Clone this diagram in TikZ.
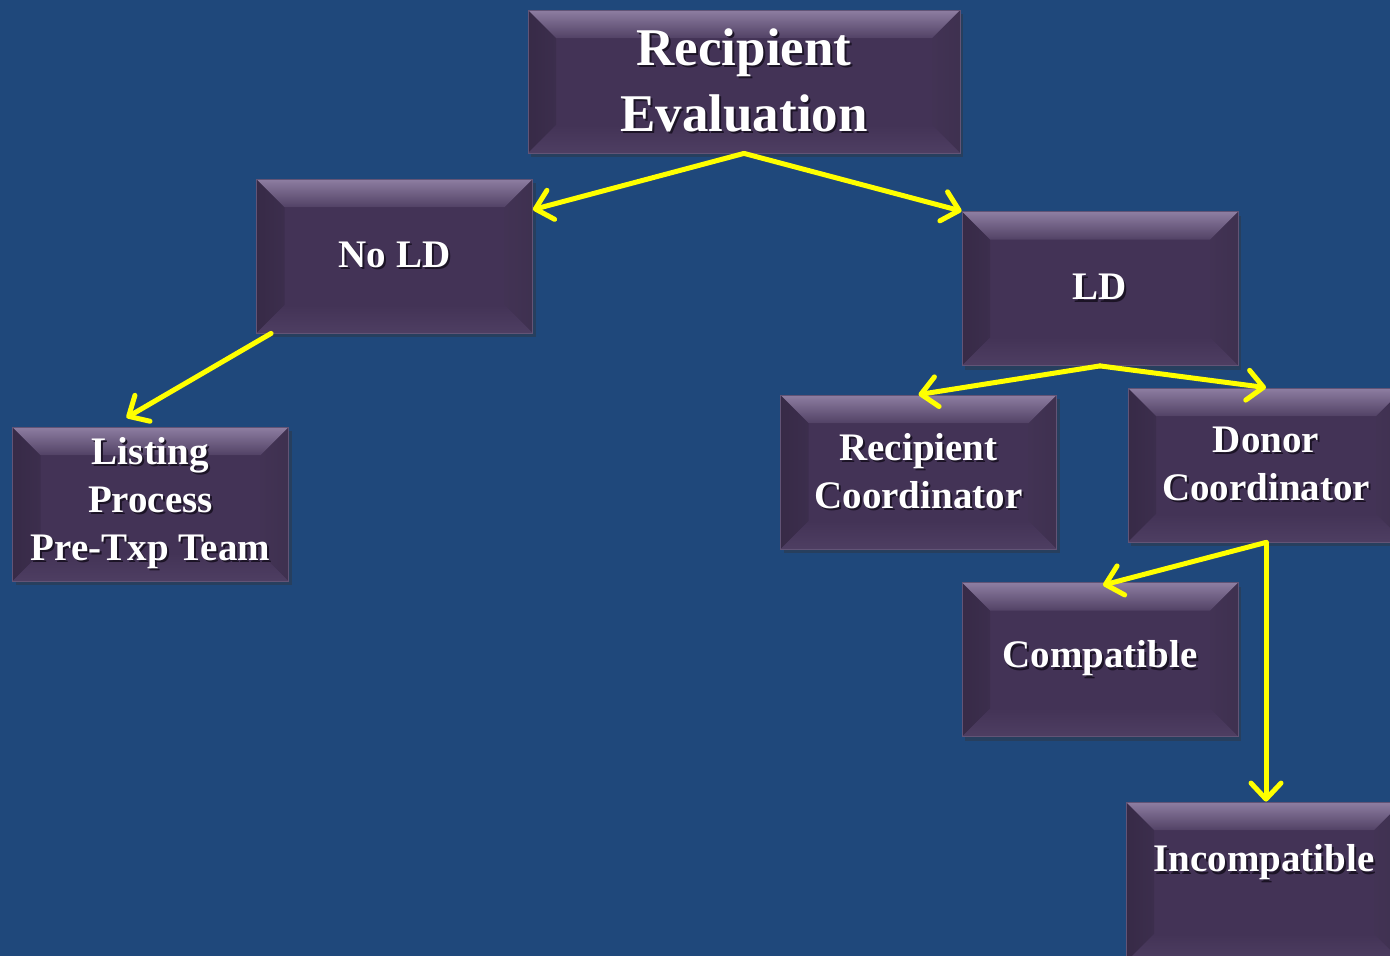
\documentclass[tikz,border=0pt]{standalone}
\usepackage{fontspec}
\setmainfont{Liberation Serif}
\usetikzlibrary{arrows.meta,shadows,calc}

\definecolor{bgblue}{RGB}{31,72,123}
\definecolor{cardmain}{RGB}{67,51,86}
\definecolor{bevtop}{RGB}{142,126,162}
\definecolor{bevleft}{RGB}{60,46,77}
\definecolor{bevright}{RGB}{66,51,84}
\definecolor{bevbot}{RGB}{78,62,98}
\definecolor{cardedge}{RGB}{98,84,118}
\definecolor{txtshadow}{RGB}{28,20,38}
\definecolor{flow}{RGB}{255,255,0}

% white lettering with a soft dark shadow below-right
\newcommand\shd[1]{\makebox[0pt][l]{\hspace{2pt}\raisebox{-2.5pt}{\textcolor{txtshadow}{#1}}}#1}

\tikzset{
  card/.style={
    fill=cardmain, draw=cardedge, line width=0.8pt, text=white,
    minimum width=276pt, minimum height=154pt, inner sep=0pt, align=center,
    font=\bfseries\fontsize{39}{48}\selectfont,
    drop shadow={shadow xshift=3pt, shadow yshift=-4pt, opacity=.4, fill=black!80},
    path picture={
      \def\bv{28pt}
      \coordinate (cNW) at (path picture bounding box.north west);
      \coordinate (cNE) at (path picture bounding box.north east);
      \coordinate (cSW) at (path picture bounding box.south west);
      \coordinate (cSE) at (path picture bounding box.south east);
      % left and right bevels
      \shade[left color=bevleft!92!black, right color=bevleft]
        (cNW) -- ([xshift=\bv,yshift=-\bv]cNW) -- ([xshift=\bv,yshift=\bv]cSW) -- (cSW) -- cycle;
      \shade[left color=bevright, right color=bevright!95!black]
        (cNE) -- (cSE) -- ([xshift=-\bv,yshift=\bv]cSE) -- ([xshift=-\bv,yshift=-\bv]cNE) -- cycle;
      % top bevel catches the light
      \shade[top color=bevtop, bottom color=cardmain!80!bevtop]
        (cNW) -- (cNE) -- ([xshift=-\bv,yshift=-\bv]cNE) -- ([xshift=\bv,yshift=-\bv]cNW) -- cycle;
      % bottom bevel
      \shade[top color=cardmain, bottom color=bevbot]
        (cSW) -- ([xshift=\bv,yshift=\bv]cSW) -- ([xshift=-\bv,yshift=\bv]cSE) -- (cSE) -- cycle;
    }},
  bigcard/.style={card, minimum width=432pt, minimum height=143pt,
    font=\bfseries\fontsize{53}{66}\selectfont},
  flowarrow/.style={draw=flow, line width=5pt, line cap=round, line join=round,
    -{Straight Barb[length=16pt, width=30pt, round]}}
}

\begin{document}
\begin{tikzpicture}[x=1pt, y=-1pt]
  \useasboundingbox (0,0) rectangle (1390,956);
  \fill[bgblue] (0,0) rectangle (1390,956);

  \node[bigcard] (eval)   at (744,81.5)  {\shd{Recipient}\\\shd{Evaluation}};
  \node[card]    (nold)   at (394.5,256) {\shd{No LD}};
  \node[card]    (ld)     at (1100,288.5){\shd{LD}};
  \node[card]    (list)   at (150.5,504) {\shd{Listing}\\\shd{Process}\\\shd{Pre-Txp Team}};
  \node[card]    (rc)     at (918.5,472) {\shd{Recipient}\\\shd{Coordinator}};
  \node[card]    (dc)     at (1266,465)  {\shd{Donor}\\\shd{Coordinator}};
  \node[card]    (comp)   at (1100,659.5){\shd{Compatible}};
  \node[card, minimum height=160pt] (incomp) at (1264,882) {\shd{Incompatible}\\\mbox{}};

  \draw[flowarrow] (eval.south) -- ($(nold.north east)+(0,31)$);
  \draw[flowarrow] (eval.south) -- (ld.north west);
  \draw[flowarrow] ($(nold.south west)+(15,0)$) -- ($(list.north)+(-24,-9)$);
  \draw[flowarrow] (ld.south) -- (rc.north);
  \draw[flowarrow] (ld.south) -- (dc.north);
  \draw[flowarrow] (dc.south) -- ($(comp.north)+(3,3)$);
  \draw[flowarrow] (dc.south) -- (dc.south |- incomp.north);
\end{tikzpicture}
\end{document}
